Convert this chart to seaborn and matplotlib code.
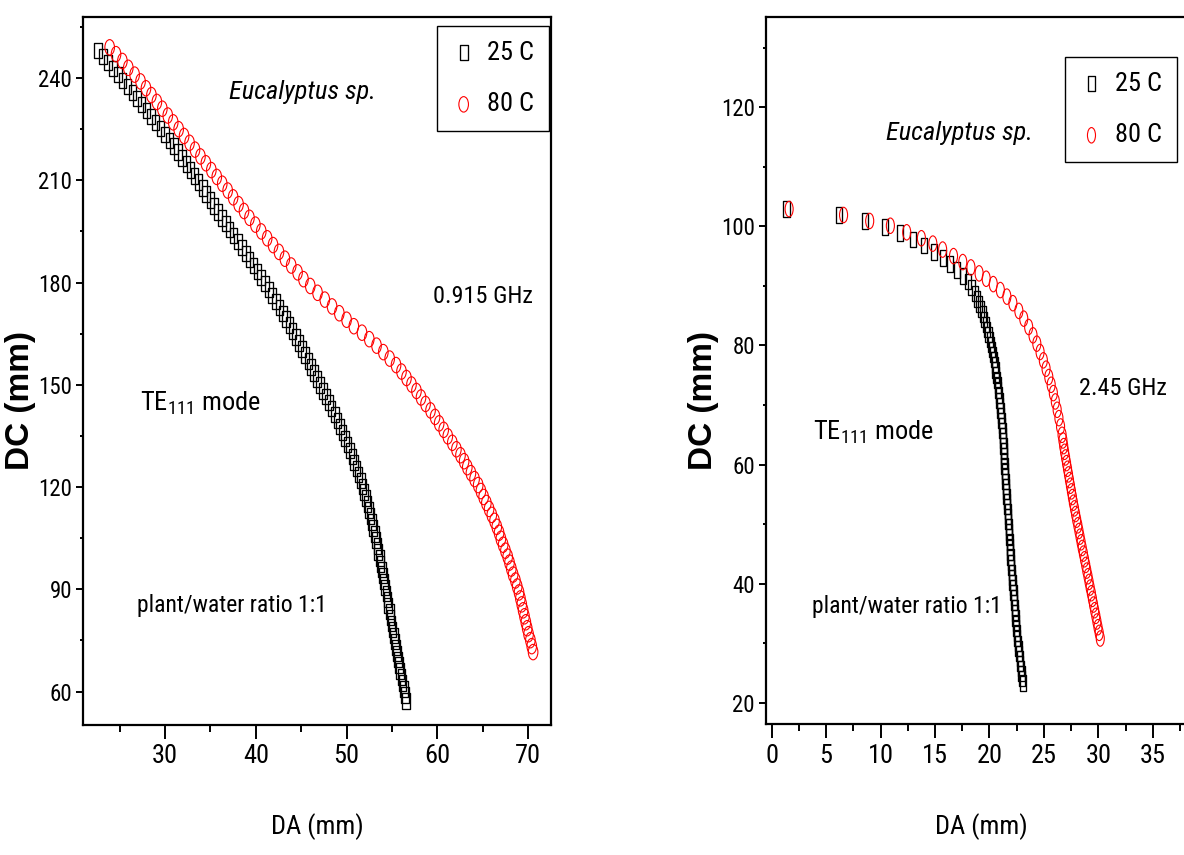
import matplotlib
matplotlib.use("Agg")
import numpy as np
import pandas as pd
import seaborn as sns
import matplotlib.pyplot as plt
from matplotlib.path import Path
from matplotlib.transforms import Affine2D
from matplotlib.ticker import MultipleLocator
from matplotlib import font_manager as fm

# ---------------- data ----------------
left_dc_25 = [248.0, 246.25, 244.5, 242.75, 241.0, 239.25, 237.5, 235.75, 234.0, 232.25,
              230.5, 228.75, 227.0, 225.25, 223.5, 221.75, 220.0, 218.25, 216.5, 214.75,
              213.0, 211.25, 209.5, 207.75, 206.0, 204.25, 202.5, 200.75, 199.0, 197.25,
              195.5, 193.75, 192.0, 190.25, 188.5, 186.75, 185.0, 183.25, 181.5, 179.75,
              178.0, 176.25, 174.5, 172.75, 171.0, 169.25, 167.5, 165.75, 164.0, 162.25,
              160.5, 158.75, 157.0, 155.25, 153.5, 151.75, 150.0, 148.25, 146.5, 144.75,
              143.0, 141.25, 139.5, 137.75, 136.0, 134.25, 132.5, 130.75, 129.0, 127.25,
              125.5, 123.75, 122.0, 120.25, 118.5, 116.75, 115.0, 113.25, 111.5, 109.75,
              108.0, 106.25, 104.5, 102.75, 101.0, 99.25, 97.5, 95.75, 94.0, 92.25,
              90.5, 88.75, 87.0, 85.25, 83.5, 81.75, 80.0, 78.25, 76.5, 74.75,
              73.0, 71.25, 69.5, 67.75, 66.0, 64.25, 62.5, 60.75, 59.0, 57.25]
left_da_25 = [22.6, 23.15, 23.7, 24.25, 24.8, 25.3, 25.85, 26.4, 26.9, 27.4,
              27.95, 28.45, 28.95, 29.5, 30.0, 30.5, 31.0, 31.45, 31.9, 32.35,
              32.8, 33.25, 33.7, 34.15, 34.55, 35.0, 35.4, 35.8, 36.25, 36.7,
              37.1, 37.55, 38.0, 38.45, 38.9, 39.3, 39.75, 40.2, 40.6, 41.05,
              41.45, 41.8, 42.2, 42.6, 43.0, 43.35, 43.7, 44.05, 44.4, 44.75,
              45.1, 45.45, 45.8, 46.1, 46.45, 46.75, 47.1, 47.4, 47.75, 48.05,
              48.35, 48.7, 49.0, 49.25, 49.55, 49.8, 50.1, 50.4, 50.65, 50.85,
              51.1, 51.3, 51.55, 51.75, 51.95, 52.15, 52.3, 52.5, 52.65, 52.8,
              52.95, 53.1, 53.25, 53.4, 53.5, 53.65, 53.75, 53.9, 54.0, 54.15,
              54.25, 54.4, 54.5, 54.6, 54.75, 54.85, 54.95, 55.05, 55.2, 55.3,
              55.45, 55.55, 55.7, 55.8, 55.9, 56.05, 56.15, 56.3, 56.4, 56.55]

left_dc_80 = [249.0, 247.0, 245.0, 243.0, 241.0, 239.0, 237.0, 235.0, 233.0, 231.0,
              229.0, 227.0, 225.0, 223.0, 221.0, 219.0, 217.0, 215.0, 213.0, 211.0,
              209.0, 207.0, 205.0, 203.0, 201.0, 199.0, 197.0, 195.0, 193.0, 191.0,
              189.0, 187.0, 185.0, 183.0, 181.0, 179.0, 177.0, 175.0, 173.0, 171.0,
              169.1, 167.2, 165.3, 163.4, 161.5, 159.6, 157.7, 155.8, 153.9, 152.0,
              150.1, 148.2, 146.3, 144.4, 142.5, 140.6, 138.7, 136.8, 134.9, 133.0,
              131.1, 129.35, 127.6, 125.85, 124.1, 122.35, 120.6, 118.85, 117.1, 115.35,
              113.6, 111.85, 110.1, 108.35, 106.6, 104.85, 103.1, 101.35, 99.6, 97.85,
              96.1, 94.35, 92.6, 90.85, 89.1, 87.35, 85.6, 83.85, 82.1, 80.35,
              78.6, 76.85, 75.1, 73.35, 71.6]
left_da_80 = [23.9, 24.6, 25.3, 25.95, 26.65, 27.3, 27.9, 28.5, 29.1, 29.7,
              30.3, 30.9, 31.5, 32.1, 32.7, 33.3, 33.9, 34.5, 35.1, 35.7,
              36.3, 36.9, 37.5, 38.1, 38.7, 39.3, 39.95, 40.6, 41.25, 41.9,
              42.55, 43.2, 43.9, 44.6, 45.25, 46.0, 46.8, 47.6, 48.4, 49.2,
              50.0, 50.8, 51.7, 52.5, 53.3, 54.05, 54.75, 55.45, 56.05, 56.6,
              57.15, 57.7, 58.2, 58.7, 59.25, 59.75, 60.2, 60.7, 61.15, 61.65,
              62.1, 62.55, 62.95, 63.3, 63.7, 64.1, 64.5, 64.8, 65.1, 65.4,
              65.7, 66.0, 66.3, 66.55, 66.8, 67.0, 67.25, 67.5, 67.75, 67.95,
              68.15, 68.35, 68.6, 68.8, 69.0, 69.15, 69.3, 69.45, 69.6, 69.75,
              69.9, 70.05, 70.25, 70.4, 70.55]

right_dc_25 = [102.9, 101.9, 100.9, 99.9, 98.9, 97.8, 96.8, 95.7, 94.7, 93.7,
               92.7, 91.7, 90.7, 89.7, 88.7, 87.8, 86.95, 86.1, 85.25, 84.4,
               83.55, 82.7, 81.85, 81.0, 80.15, 79.3, 78.45, 77.6, 76.75, 75.9,
               75.05, 74.2, 73.35, 72.5, 71.65, 70.8, 69.95, 69.1, 68.25, 67.4,
               66.55, 65.7, 64.85, 64.0, 63.15, 62.3, 61.45, 60.6, 59.75, 58.9,
               58.05, 57.2, 56.35, 55.5, 54.65, 53.8, 52.95, 52.1, 51.25, 50.4,
               49.55, 48.7, 47.85, 47.0, 46.15, 45.3, 44.45, 43.6, 42.75, 41.9,
               41.05, 40.2, 39.35, 38.5, 37.65, 36.8, 35.95, 35.1, 34.25, 33.4,
               32.55, 31.7, 30.85, 30.0, 29.15, 28.3, 27.45, 26.6, 25.75, 24.9,
               24.05, 23.3]
right_da_25 = [1.35, 6.2, 8.55, 10.4, 11.8, 13.0, 14.0, 14.9, 15.7, 16.4,
               17.0, 17.55, 18.0, 18.35, 18.65, 18.85, 19.05, 19.2, 19.38, 19.53,
               19.68, 19.8, 19.92, 20.04, 20.13, 20.22, 20.32, 20.41, 20.48, 20.55,
               20.62, 20.69, 20.76, 20.82, 20.88, 20.93, 20.98, 21.02, 21.07, 21.11,
               21.15, 21.19, 21.23, 21.26, 21.29, 21.32, 21.34, 21.36, 21.39, 21.42,
               21.45, 21.48, 21.51, 21.54, 21.57, 21.6, 21.64, 21.67, 21.7, 21.73,
               21.76, 21.79, 21.82, 21.85, 21.88, 21.91, 21.94, 21.98, 22.01, 22.05,
               22.08, 22.12, 22.16, 22.2, 22.23, 22.27, 22.31, 22.35, 22.39, 22.42,
               22.46, 22.5, 22.55, 22.61, 22.66, 22.72, 22.78, 22.83, 22.89, 22.95,
               23.0, 23.06]

right_dc_80 = [102.9, 101.9, 100.9, 100.1, 99.0, 98.0, 97.1, 96.1, 95.0, 94.0,
               93.1, 92.1, 91.2, 90.3, 89.3, 88.2, 87.1, 85.8, 84.5, 83.1,
               81.7, 80.3, 78.9, 77.5, 76.1, 74.7, 73.4, 72.0, 70.6, 69.2,
               67.8, 66.4, 65.0, 64.05, 63.1, 62.15, 61.2, 60.25, 59.3, 58.35,
               57.4, 56.45, 55.5, 54.55, 53.6, 52.65, 51.7, 50.75, 49.8, 48.85,
               47.9, 46.95, 46.0, 45.05, 44.1, 43.15, 42.2, 41.25, 40.3, 39.35,
               38.4, 37.45, 36.5, 35.55, 34.6, 33.65, 32.7, 31.75, 30.8]
right_da_80 = [1.6, 6.6, 9.0, 10.9, 12.4, 13.75, 14.8, 15.7, 16.7, 17.55,
               18.3, 19.05, 19.7, 20.35, 21.0, 21.6, 22.15, 22.7, 23.15, 23.6,
               24.0, 24.35, 24.65, 24.95, 25.2, 25.45, 25.67, 25.87, 26.05, 26.22,
               26.38, 26.53, 26.67, 26.75, 26.82, 26.9, 26.99, 27.08, 27.17, 27.26,
               27.35, 27.44, 27.53, 27.62, 27.71, 27.81, 27.91, 28.01, 28.12, 28.22,
               28.32, 28.42, 28.52, 28.63, 28.73, 28.84, 28.94, 29.05, 29.15, 29.25,
               29.36, 29.46, 29.56, 29.66, 29.77, 29.87, 29.97, 30.08, 30.18]

series_labels = ["25 C", "80 C"]
species = "Eucalyptus sp."
freq_labels = ["0.915 GHz", "2.45 GHz"]
mode_text = "TE$_{\\mathregular{111}}$ mode"
ratio_text = "plant/water ratio 1:1"
x_title = "DA (mm)"
y_title = "DC (mm)"

# ---------------- fonts ----------------
sns.set_style("ticks")
avail = {f.name for f in fm.fontManager.ttflist}
SANS = "Liberation Sans" if "Liberation Sans" in avail else "DejaVu Sans"


def find_narrow():
    for n in ["Liberation Sans Narrow", "Arial Narrow", "Roboto Condensed",
              "Open Sans Condensed", "Noto Sans Condensed", "DejaVu Sans Condensed",
              "Noto Sans SemiCondensed", "Open Sans SemiCondensed"]:
        if n in avail:
            return n, "normal"
    best = None
    for f in fm.fontManager.ttflist:
        st = f.stretch
        if isinstance(st, str):
            st = fm.stretch_dict.get(st, 500)
        if st < 500 and f.name in ("Noto Sans", "Open Sans", "Roboto", "DejaVu Sans",
                                   "Lato", "Inter", "Liberation Sans"):
            if best is None or st < best[1]:
                best = (f.name, st)
    if best is not None:
        inv = {v: k for k, v in fm.stretch_dict.items()}
        return best[0], inv.get(best[1], "condensed")
    return None, "normal"


NARROW, STRETCH = find_narrow()
if NARROW is None:
    NARROW = SANS
    SZ = dict(ytick=15, xtick=17, species=18, freq=16, mode=18, ratio=15, legend=18, xlabel=18)
else:
    SZ = dict(ytick=16.5, xtick=19, species=19, freq=17.5, mode=19, ratio=17, legend=19, xlabel=19)

plt.rcParams["font.family"] = [NARROW, "DejaVu Sans"]
plt.rcParams["font.stretch"] = STRETCH
plt.rcParams.update({
    "axes.edgecolor": "black", "xtick.color": "black", "ytick.color": "black",
    "text.color": "black", "axes.labelcolor": "black",
})


def rect_path(hw):
    return Path([(-hw, -0.5), (hw, -0.5), (hw, 0.5), (-hw, 0.5), (-hw, -0.5)],
                [Path.MOVETO, Path.LINETO, Path.LINETO, Path.LINETO, Path.CLOSEPOLY])


def ell_path(hw):
    return Path.unit_circle().transformed(Affine2D().scale(hw, 0.5))


MS = 124

fig = plt.figure(figsize=(11.84, 8.55), dpi=100)
ax1 = fig.add_axes([0.0704, 0.152, 0.3948, 0.8277])
ax2 = fig.add_axes([0.647, 0.1529, 0.3634, 0.8269])


def draw(ax, da25, dc25, da80, dc80, sq_hw, ci_hw):
    d25 = pd.DataFrame({"DA": da25, "DC": dc25})
    d80 = pd.DataFrame({"DA": da80, "DC": dc80})
    sns.scatterplot(data=d25, x="DA", y="DC", ax=ax, marker=rect_path(sq_hw), s=MS,
                    color="black", facecolor="none", edgecolor="black",
                    linewidth=0.95, label=series_labels[0], legend=False, zorder=3)
    sns.scatterplot(data=d80, x="DA", y="DC", ax=ax, marker=ell_path(ci_hw), s=MS,
                    color="red", facecolor="none", edgecolor="red",
                    linewidth=0.8, label=series_labels[1], legend=False, zorder=4)


draw(ax1, left_da_25, left_dc_25, left_da_80, left_dc_80, 0.25, 0.31)
draw(ax2, right_da_25, right_dc_25, right_da_80, right_dc_80, 0.2, 0.26)


def style(ax, xlim, ylim, xmaj, xmin, ymaj, ymin):
    ax.set_xlim(*xlim)
    ax.set_ylim(*ylim)
    ax.xaxis.set_major_locator(MultipleLocator(xmaj))
    ax.xaxis.set_minor_locator(MultipleLocator(xmin))
    ax.yaxis.set_major_locator(MultipleLocator(ymaj))
    ax.yaxis.set_minor_locator(MultipleLocator(ymin))
    ax.tick_params(axis="x", which="major", direction="out", length=10, width=1.4,
                   pad=4, labelsize=SZ["xtick"])
    ax.tick_params(axis="x", which="minor", direction="out", length=5, width=1.4)
    ax.tick_params(axis="y", which="major", direction="out", length=5, width=1.4,
                   pad=3, labelsize=SZ["ytick"])
    ax.tick_params(axis="y", which="minor", direction="out", length=2.5, width=1.4)
    for sp in ax.spines.values():
        sp.set_visible(True)
        sp.set_linewidth(1.6)
        sp.set_color("black")
    ax.set_xlabel(x_title, fontsize=SZ["xlabel"], va="center")
    ax.set_ylabel(y_title, fontsize=24, fontweight="bold", family=[SANS],
                  fontstretch="normal", va="center")


style(ax1, (21.0, 72.5), (50.2, 257.8), 10, 5, 30, 15)
style(ax2, (-0.52, 39.0), (16.4, 135.1), 5, 2.5, 20, 10)

ax1.xaxis.set_label_coords(0.5, -0.143)
ax1.yaxis.set_label_coords(-0.135, 0.458)
ax2.xaxis.set_label_coords(0.5, -0.144)
ax2.yaxis.set_label_coords(-0.146, 0.458)


def annotate(ax, sp_xy, fq_text, fq_xy, mode_xy, ratio_xy, leg_anchor):
    ax.text(*sp_xy, species, transform=ax.transAxes, fontsize=SZ["species"],
            style="italic", ha="center", va="baseline")
    ax.text(*fq_xy, fq_text, transform=ax.transAxes, fontsize=SZ["freq"],
            ha="center", va="baseline")
    ax.text(*mode_xy, mode_text, transform=ax.transAxes, fontsize=SZ["mode"],
            ha="left", va="baseline")
    ax.text(*ratio_xy, ratio_text, transform=ax.transAxes, fontsize=SZ["ratio"],
            ha="left", va="baseline")
    leg = ax.legend(loc="upper right", bbox_to_anchor=leg_anchor, borderaxespad=0,
                    frameon=True, fancybox=False, edgecolor="black", framealpha=1,
                    fontsize=SZ["legend"], handlelength=0.9, handletextpad=0.45,
                    labelspacing=1.05, borderpad=0.55, scatterpoints=1)
    leg.get_frame().set_linewidth(1.0)


annotate(ax1, (0.468, 0.8846), freq_labels[0], (0.854, 0.5963), (0.1215, 0.4451),
         (0.1149, 0.1597), (0.996, 0.9877))
annotate(ax2, (0.4485, 0.8264), freq_labels[1], (0.8297, 0.4658), (0.1092, 0.4021),
         (0.1062, 0.1574), (0.9545, 0.9438))

fig.savefig("out.png", dpi=100)
